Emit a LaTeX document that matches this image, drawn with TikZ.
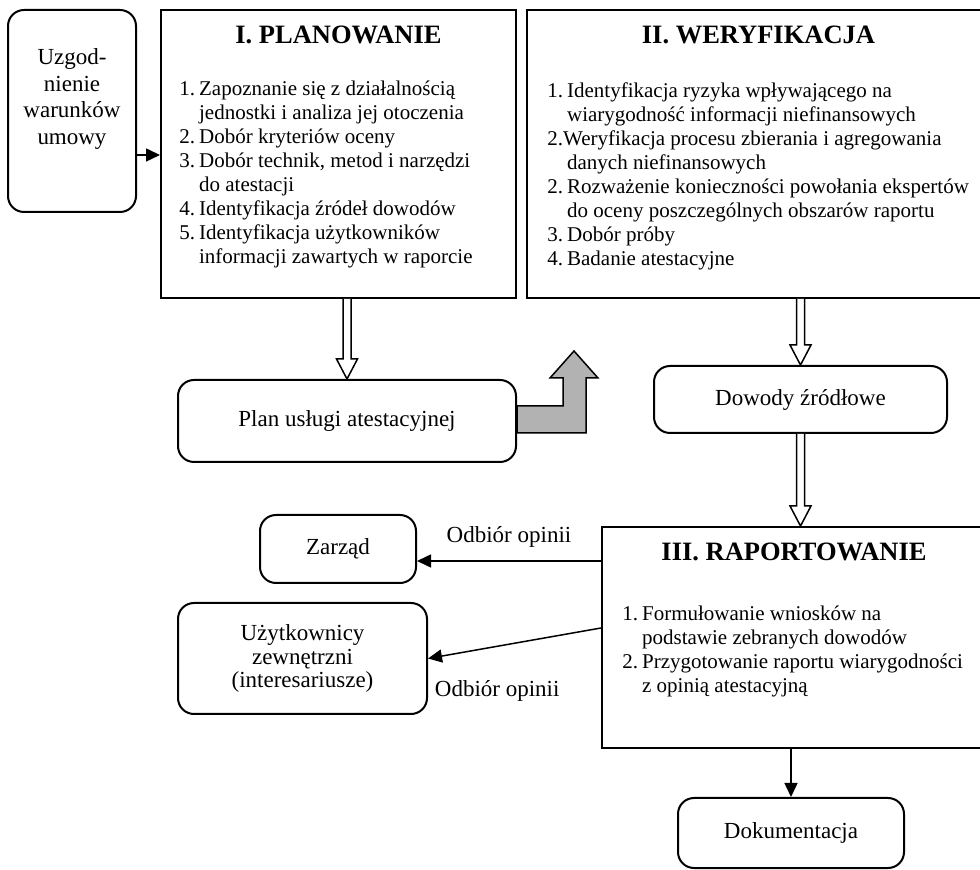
\documentclass[tikz,border=0pt]{standalone}
\usepackage{fontspec}
\setmainfont{Liberation Serif}
\usetikzlibrary{arrows.meta, calc}

\tikzset{
  box/.style={draw, line width=1pt, inner sep=0pt},
  rbox/.style={box, rounded corners=8pt},
  txt/.style={font=\fontsize{11.5}{14.25}\selectfont, align=center},
  head/.style={font=\fontsize{13.25}{16}\selectfont\bfseries, anchor=base, inner sep=0pt},
  items/.style={font=\fontsize{10.5}{12}\selectfont, anchor=base west, inner sep=0pt},
  arr/.style={line width=0.75pt, -{Triangle[length=7pt,width=6.5pt]}},
  hollowarr/.style={draw, line width=0.75pt, fill=white},
  grayarr/.style={draw, line width=0.75pt, fill=gray!60, line join=miter},
}

% open block arrow pointing down, tip at #2
\newcommand{\hollowdown}[2]{%
  \draw[hollowarr] let \p1=#1, \p2=#2 in
    (\x2-2pt,\y1) -- (\x2-2pt,\y2+10pt) -- (\x2-5.25pt,\y2+10pt) -- (\x2,\y2)
    -- (\x2+5.25pt,\y2+10pt) -- (\x2+2pt,\y2+10pt) -- (\x2+2pt,\y1);}

\begin{document}
\begin{tikzpicture}[x=0.5pt, y=-0.5pt]
  \useasboundingbox (0,0) rectangle (980,870);
  \clip (0,0) rectangle (980,870);

  % boxes
  \node[rbox, minimum width=64pt, minimum height=101pt] (uzg) at (72,111) {};
  \node[txt, font=\fontsize{11.5}{13.3}\selectfont] at (72,99) {Uzgod-\\nienie\\warunków\\umowy};

  \node[box, minimum width=177.5pt, minimum height=144pt] (plan) at (338.5,154) {};
  \node[head] at ($(plan.north)+(0,35)$) {I. PLANOWANIE};
  \node[items] at ($(plan.north west)+(19,87)$) {%
    \begin{tabular}[t]{@{}l@{\hspace{2pt}}l@{}}
      1. & Zapoznanie się z działalnością \\
         & jednostki i analiza jej otoczenia \\
      2. & Dobór kryteriów oceny \\
      3. & Dobór technik, metod i narzędzi \\
         & do atestacji \\
      4. & Identyfikacja źródeł dowodów \\
      5. & Identyfikacja użytkowników \\
         & informacji zawartych w raporcie
    \end{tabular}};

  \node[box, minimum width=231.5pt, minimum height=144pt] (wer) at (758.5,154) {};
  \node[head] at ($(wer.north)+(0,35)$) {II. WERYFIKACJA};
  \node[items] at ($(wer.north west)+(21,89)$) {%
    \begin{tabular}[t]{@{}l@{\hspace{2pt}}l@{}}
      1. & Identyfikacja ryzyka wpływającego na \\
         & wiarygodność informacji niefinansowych \\
      \multicolumn{2}{@{}l@{}}{2.Weryfikacja procesu zbierania i agregowania} \\
         & danych niefinansowych \\
      2. & Rozważenie konieczności powołania ekspertów \\
         & do oceny poszczególnych obszarów raportu \\
      3. & Dobór próby \\
      4. & Badanie atestacyjne
    \end{tabular}};

  \node[rbox, txt, minimum width=169pt, minimum height=41pt] (planusl) at (347,421) {Plan usługi atestacyjnej};
  \node[rbox, txt, minimum width=146.5pt, minimum height=33.5pt] (dowody) at (800.5,399.5) {Dowody źródłowe};

  \node[box, minimum width=192pt, minimum height=110.5pt] (rap) at (794,637.5) {};
  \node[head] at ($(rap.north)+(0,35)$) {III. RAPORTOWANIE};
  \node[items] at ($(rap.north west)+(21,95)$) {%
    \begin{tabular}[t]{@{}l@{\hspace{2pt}}l@{}}
      1. & Formułowanie wniosków na \\
         & podstawie zebranych dowodów \\
      2. & Przygotowanie raportu wiarygodności \\
         & z opinią atestacyjną
    \end{tabular}};

  \node[rbox, txt, minimum width=78pt, minimum height=34pt] (zarzad) at (338,549) {Zarząd};
  \node[rbox, txt, font=\fontsize{11.5}{11.75}\selectfont, minimum width=124.5pt, minimum height=55.5pt] (uzyt) at (302.5,658.5) {Użytkownicy\\zewnętrzni\\(interesariusze)};
  \node[rbox, txt, minimum width=113pt, minimum height=35pt] (dok) at (791,833) {Dokumentacja};

  % connectors
  \draw[arr] ($(uzg.south east)+(0,-58)$) coordinate (a) -- (a -| plan.west);
  \hollowdown{(planusl.north |- plan.south)}{(planusl.north)}
  \hollowdown{(dowody.north |- wer.south)}{(dowody.north)}
  \hollowdown{(dowody.south)}{(rap.north -| dowody.south)}
  \draw[grayarr] ($(planusl.east)+(0,-15)$) -- ++(46,0) -- ++(0,-28) -- ++(-13,0)
    -- ++(24,-27) -- ++(24,27) -- ++(-12,0) -- ++(0,55) -- ++(-69,0) -- cycle;
  \draw[arr] ($(rap.north west)+(0,35)$) coordinate (z) -- (z -| zarzad.east)
    node[txt, midway, above=3pt] {Odbiór opinii};
  \draw[arr] ($(rap.north west)+(0,102)$) -- (uzyt.east)
    node[txt, pos=0.6, below=13.5pt] {Odbiór opinii};
  \draw[arr] (dok.north |- rap.south) -- (dok.north);
\end{tikzpicture}
\end{document}
